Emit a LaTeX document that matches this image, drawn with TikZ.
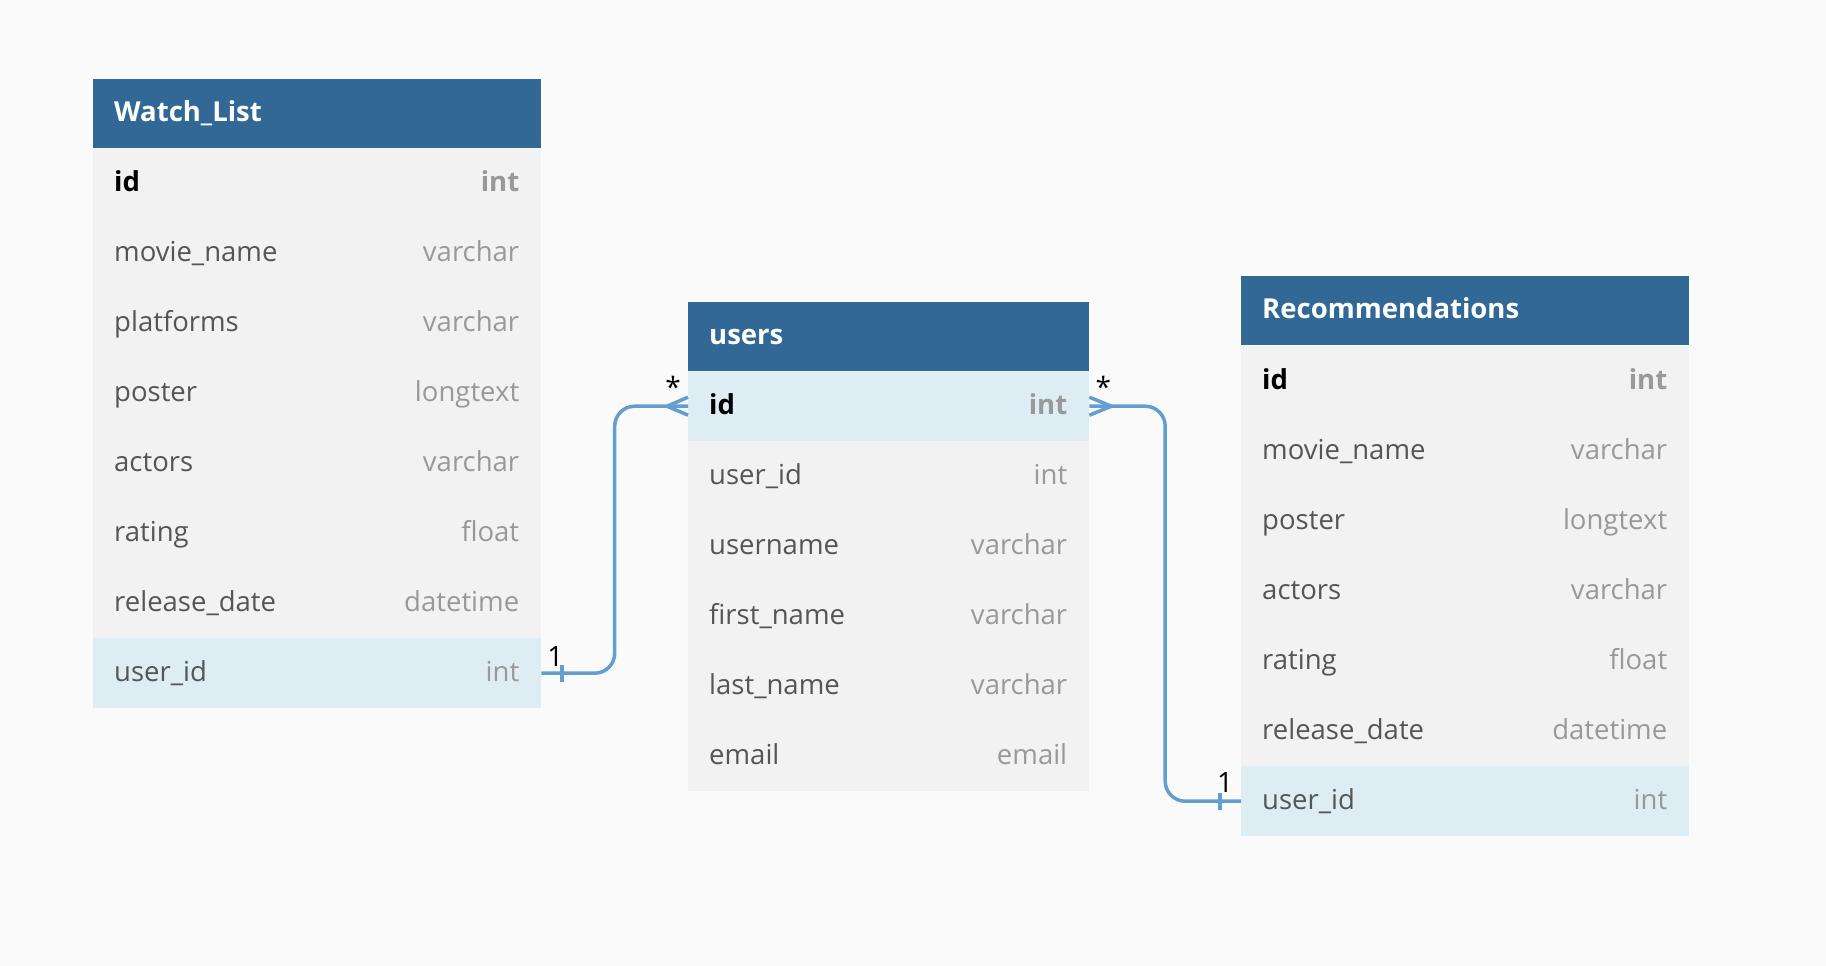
\documentclass[tikz,border=0pt]{standalone}
\usepackage{fontspec}
\setmainfont{Open Sans}
\usepackage{xcolor}
\usetikzlibrary{calc}
\definecolor{headblue}{HTML}{316896}
\definecolor{rowgrey}{HTML}{F2F2F2}
\definecolor{rowblue}{HTML}{DEECF4}
\definecolor{linkblue}{HTML}{629FCF}
\definecolor{namegrey}{HTML}{555555}
\definecolor{typegrey}{HTML}{999999}
\tikzset{
    tbl-head/.style = {fill=headblue, rectangle, anchor=north west, minimum width=448pt, minimum height=69pt, inner sep=0pt},
    tbl-title/.style = {anchor=base west, text=white, inner sep=0pt, font=\fontsize{27.5}{32}\selectfont\bfseries},
    tbl-row/.style = {fill=rowgrey, rectangle, anchor=north west, minimum width=448pt, minimum height=70pt, inner sep=0pt},
    tbl-key/.style = {fill=rowblue},
    field-name/.style = {anchor=base west, text=namegrey, inner sep=0pt, font=\fontsize{27.5}{32}\selectfont},
    field-type/.style = {anchor=base east, text=typegrey, inner sep=0pt, font=\fontsize{27.5}{32}\selectfont},
    rel-line/.style = {draw=linkblue, line width=3.5pt, rounded corners=20pt},
    rel-label/.style = {text=black, inner sep=0pt, font=\fontsize{28}{32}\selectfont},
}

\begin{document}
\begin{tikzpicture}[x=1pt, y=-1pt]
\useasboundingbox (0,0) rectangle (1826,966);
\fill[fill=black!2] (0,0) rectangle (1826,966);

% Watch_List
\node[tbl-head] (wl) at (93,79) {};
\node[tbl-title] at ([xshift=21pt, yshift=-8pt]wl.west) {Watch\_List};
\foreach \fname/\ftype [count=\i] in {id/int, movie\_name/varchar, platforms/varchar, poster/longtext, actors/varchar, rating/float, release\_date/datetime, user\_id/int} {
    \ifnum\i=8
        \node[tbl-row, tbl-key] (wl-\i) at (93, 78+70*\i) {};
    \else
        \node[tbl-row] (wl-\i) at (93, 78+70*\i) {};
    \fi
    \ifnum\i=1
        \node[field-name, text=black, font=\fontsize{27.5}{32}\selectfont\bfseries] at ([xshift=21pt, yshift=-8.5pt]wl-\i.west) {\fname};
        \node[field-type, font=\fontsize{27.5}{32}\selectfont\bfseries] at ([xshift=-22pt, yshift=-8.5pt]wl-\i.east) {\ftype};
    \else
        \node[field-name] at ([xshift=21pt, yshift=-8.5pt]wl-\i.west) {\fname};
        \node[field-type] at ([xshift=-22pt, yshift=-8.5pt]wl-\i.east) {\ftype};
    \fi
}

% users
\node[tbl-head, minimum width=401pt] (us) at (688,302) {};
\node[tbl-title] at ([xshift=21pt, yshift=-8pt]us.west) {users};
\foreach \fname/\ftype [count=\i] in {id/int, user\_id/int, username/varchar, first\_name/varchar, last\_name/varchar, email/email} {
    \ifnum\i=1
        \node[tbl-row, tbl-key, minimum width=401pt] (us-\i) at (688, 301+70*\i) {};
        \node[field-name, text=black, font=\fontsize{27.5}{32}\selectfont\bfseries] at ([xshift=21pt, yshift=-8.5pt]us-\i.west) {\fname};
        \node[field-type, font=\fontsize{27.5}{32}\selectfont\bfseries] at ([xshift=-22pt, yshift=-8.5pt]us-\i.east) {\ftype};
    \else
        \node[tbl-row, minimum width=401pt] (us-\i) at (688, 301+70*\i) {};
        \node[field-name] at ([xshift=21pt, yshift=-8.5pt]us-\i.west) {\fname};
        \node[field-type] at ([xshift=-22pt, yshift=-8.5pt]us-\i.east) {\ftype};
    \fi
}

% Recommendations
\node[tbl-head] (rc) at (1241,276) {};
\node[tbl-title] at ([xshift=21pt, yshift=-8pt]rc.west) {Recommendations};
\foreach \fname/\ftype [count=\i] in {id/int, movie\_name/varchar, poster/longtext, actors/varchar, rating/float, release\_date/datetime, user\_id/int} {
    \ifnum\i=7
        \node[tbl-row, tbl-key] (rc-\i) at (1241, 276+70*\i) {};
    \else
        \node[tbl-row] (rc-\i) at (1241, 276+70*\i) {};
    \fi
    \ifnum\i=1
        \node[field-name, text=black, font=\fontsize{27.5}{32}\selectfont\bfseries] at ([xshift=21pt, yshift=-8.5pt]rc-\i.west) {\fname};
        \node[field-type, font=\fontsize{27.5}{32}\selectfont\bfseries] at ([xshift=-22pt, yshift=-8.5pt]rc-\i.east) {\ftype};
    \else
        \node[field-name] at ([xshift=21pt, yshift=-8.5pt]rc-\i.west) {\fname};
        \node[field-type] at ([xshift=-22pt, yshift=-8.5pt]rc-\i.east) {\ftype};
    \fi
}

% relations
\coordinate (m1) at ($(wl-8.east)!0.5!(us-1.west)$);
\draw[rel-line] (wl-8.east) -- (wl-8.east -| m1) -- (us-1.west -| m1) -- (us-1.west);
\draw[rel-line] ([xshift=20.5pt, yshift=8.5pt]wl-8.east) -- ([xshift=20.5pt, yshift=-8.5pt]wl-8.east);
\draw[rel-line] ([xshift=-21pt]us-1.west) -- ([yshift=9pt]us-1.west);
\draw[rel-line] ([xshift=-21pt]us-1.west) -- ([yshift=-9pt]us-1.west);
\node[rel-label] at ([xshift=14pt, yshift=17pt]wl-8.east) {1};
\node[rel-label] at ([xshift=-15pt, yshift=19pt]us-1.west) {*};

\coordinate (m2) at ($(us-1.east)!0.5!(rc-7.west)$);
\draw[rel-line] (us-1.east) -- (us-1.east -| m2) -- (rc-7.west -| m2) -- (rc-7.west);
\draw[rel-line] ([xshift=-21pt, yshift=8.5pt]rc-7.west) -- ([xshift=-21pt, yshift=-8.5pt]rc-7.west);
\draw[rel-line] ([xshift=22pt]us-1.east) -- ([yshift=9pt]us-1.east);
\draw[rel-line] ([xshift=22pt]us-1.east) -- ([yshift=-9pt]us-1.east);
\node[rel-label] at ([xshift=-16pt, yshift=19pt]rc-7.west) {1};
\node[rel-label] at ([xshift=14pt, yshift=19pt]us-1.east) {*};
\end{tikzpicture}
\end{document}
